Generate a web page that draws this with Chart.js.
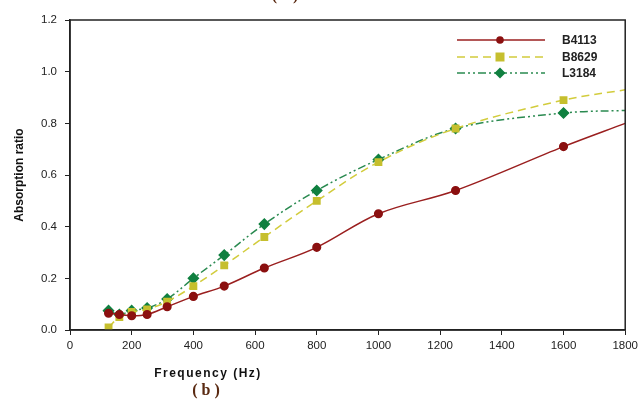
<!DOCTYPE html>
<html lang="en">
<head>
<meta charset="UTF-8">
<script src="https://cdn.jsdelivr.net/npm/chart.js"></script>
<title>Absorption ratio</title>
<style>
  body { margin: 0; background: #fff; }
  #wrap { width: 642px; height: 403px; }
</style>
</head>
<body>
<div id="wrap"><canvas id="grafico" width="642" height="403"></canvas></div>
<script>
// frequencies (Hz) - last one has no marker, line just runs to the edge
var frequencias = [125, 160, 200, 250, 315, 400, 500, 630, 800, 1000, 1250, 1600, 1800];
var b4113 = [0.065, 0.06, 0.055, 0.06, 0.09, 0.13, 0.17, 0.24, 0.32, 0.45, 0.54, 0.71, 0.80];
var b8629 = [0.01, 0.05, 0.07, 0.08, 0.11, 0.17, 0.25, 0.36, 0.50, 0.65, 0.78, 0.89, 0.93];
var l3184 = [0.075, 0.06, 0.075, 0.085, 0.12, 0.20, 0.29, 0.41, 0.54, 0.66, 0.78, 0.84, 0.85];
var nomes = ['B4113', 'B8629', 'L3184'];

function pontos(valores) {
    var lista = [];
    for (var i = 0; i < frequencias.length; i++) {
        lista.push({ x: frequencias[i], y: valores[i] });
    }
    return lista;
}

function raios(r) {
    var lista = [];
    for (var i = 0; i < frequencias.length; i++) {
        lista.push(i == frequencias.length - 1 ? 0 : r);
    }
    return lista;
}

// frame + legend + captions
var extras = {
    id: 'extras',
    afterDraw: function (chart) {
        var ctx = chart.ctx;
        var a = chart.chartArea;
        ctx.save();
        ctx.strokeStyle = '#222';
        ctx.lineWidth = 1.5;
        ctx.strokeRect(a.left, a.top, a.right - a.left, a.bottom - a.top);

        // legend
        var ys = [40, 57, 73];
        chart.data.datasets.forEach(function (ds, i) {
            var y = ys[i];
            ctx.strokeStyle = ds.borderColor;
            ctx.lineWidth = ds.borderWidth;
            ctx.setLineDash(ds.borderDash || []);
            ctx.beginPath();
            ctx.moveTo(457, y);
            ctx.lineTo(545, y);
            ctx.stroke();
            ctx.setLineDash([]);
            ctx.fillStyle = ds.pointBackgroundColor;
            var r = 4.5;
            ctx.beginPath();
            if (ds.pointStyle == 'circle') {
                ctx.arc(500, y, 3.8, 0, Math.PI * 2);
            } else if (ds.pointStyle == 'rect') {
                ctx.rect(500 - r, y - r, r * 2, r * 2);
            } else {
                ctx.moveTo(500, y - 5.5);
                ctx.lineTo(505.5, y);
                ctx.lineTo(500, y + 5.5);
                ctx.lineTo(494.5, y);
                ctx.closePath();
            }
            ctx.fill();
            ctx.fillStyle = '#222';
            ctx.font = 'bold 12px "Liberation Sans", Arial, sans-serif';
            ctx.textAlign = 'left';
            ctx.textBaseline = 'middle';
            ctx.fillText(ds.label, 562, y + 1);
        });

        // x axis title
        ctx.fillStyle = '#111';
        ctx.font = 'bold 12px "Liberation Sans", Arial, sans-serif';
        ctx.textAlign = 'center';
        ctx.textBaseline = 'middle';
        if ('letterSpacing' in ctx) ctx.letterSpacing = '1.5px';
        ctx.fillText('Frequency (Hz)', 208, 374);
        if ('letterSpacing' in ctx) ctx.letterSpacing = '0px';

        ctx.fillStyle = '#5a2a12';
        ctx.font = 'bold 16px "Liberation Serif", "Times New Roman", serif';
        ctx.fillText('( b )', 206, 391);
        ctx.textBaseline = 'bottom';
        ctx.fillText('( a )', 285, 4);
        ctx.restore();
    }
};

const ctx = document.getElementById('grafico').getContext('2d');
new Chart(ctx, {
    type: 'line',
    data: {
        datasets: [
            {
                label: nomes[0],
                data: pontos(b4113),
                borderColor: '#9a1f1f',
                backgroundColor: '#8b1010',
                pointBackgroundColor: '#8b1010',
                pointBorderColor: '#8b1010',
                borderWidth: 1.5,
                pointStyle: 'circle',
                pointRadius: raios(3.8),
                tension: 0.35
            },
            {
                label: nomes[1],
                data: pontos(b8629),
                borderColor: '#d2cc3c',
                backgroundColor: '#c6bf2e',
                pointBackgroundColor: '#c6bf2e',
                pointBorderColor: '#c6bf2e',
                borderWidth: 1.5,
                borderDash: [8, 5],
                pointStyle: 'rect',
                pointRadius: raios(4.5),
                tension: 0.35
            },
            {
                label: nomes[2],
                data: pontos(l3184),
                borderColor: '#2a8a50',
                backgroundColor: '#108040',
                pointBackgroundColor: '#108040',
                pointBorderColor: '#108040',
                borderWidth: 1.5,
                borderDash: [8, 3, 2, 3, 2, 3],
                pointStyle: 'rectRot',
                pointRadius: raios(5),
                tension: 0.35
            }
        ]
    },
    options: {
        responsive: false,
        animation: false,
        layout: { padding: { top: 20, right: 15, left: 12, bottom: 0 } },
        plugins: {
            legend: { display: false },
            tooltip: { enabled: false }
        },
        scales: {
            x: {
                type: 'linear',
                min: 0,
                max: 1800,
                afterFit: function (s) { s.height = 73; },
                ticks: {
                    stepSize: 200,
                    color: '#222',
                    padding: 4,
                    maxRotation: 0,
                    font: { size: 11.5, family: '"Liberation Sans", Arial, sans-serif' },
                    callback: function (v) { return String(v); }
                },
                grid: { drawOnChartArea: false, tickLength: 5, color: '#222', lineWidth: 1 },
                border: { color: '#222', width: 1.5 }
            },
            y: {
                min: 0,
                max: 1.2,
                afterFit: function (s) { s.width = 58; },
                ticks: {
                    stepSize: 0.2,
                    color: '#222',
                    padding: 8,
                    font: { size: 11.5, family: '"Liberation Sans", Arial, sans-serif' },
                    callback: function (v) { return v.toFixed(1); }
                },
                grid: { drawOnChartArea: false, tickLength: 5, color: '#222', lineWidth: 1 },
                border: { color: '#222', width: 1.5 },
                title: {
                    display: true,
                    text: 'Absorption ratio',
                    color: '#111',
                    padding: { top: 0, bottom: 4 },
                    font: { size: 12, weight: 'bold', family: '"Liberation Sans", Arial, sans-serif' }
                }
            }
        }
    },
    plugins: [extras]
});
</script>
</body>
</html>
